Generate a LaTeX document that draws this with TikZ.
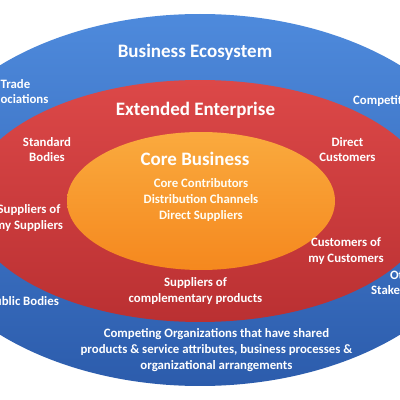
\documentclass[tikz,border=0pt]{standalone}
\usepackage{fontspec}
\setmainfont{Carlito}
\begin{document}
\begin{tikzpicture}[x=1pt,y=1pt,
  title/.style={text=white,font=\bfseries\fontsize{19}{22}\selectfont,inner sep=0pt},
  lab/.style={text=white,font=\bfseries\fontsize{12.8}{15.7}\selectfont,align=center,inner sep=0pt},
  corelab/.style={text=white!96!yellow,font=\bfseries\fontsize{12.8}{15.7}\selectfont,align=center,inner sep=0pt}]
\useasboundingbox (0,0) rectangle (400,400);
\clip (0,0) rectangle (400,400);
\fill[white] (0,0) rectangle (400,400);
% rings
\shade[top color={rgb,255:red,78;green,138;blue,220}, bottom color={rgb,255:red,44;green,92;blue,172}]
  (200,200) ellipse [x radius=290pt, y radius=186pt];
\shade[top color={rgb,255:red,220;green,72;blue,72}, bottom color={rgb,255:red,186;green,48;blue,50}]
  (200,199) ellipse [x radius=232pt, y radius=121pt];
\shade[top color={rgb,255:red,250;green,170;blue,62}, bottom color={rgb,255:red,245;green,136;blue,30}]
  (201,199) ellipse [x radius=134pt, y radius=69pt];
% titles
\node[title] (eco) at (195,348) {Business Ecosystem};
\node[title] (ext) at (195.5,290) {Extended Enterprise};
\node[title] (core) at (195,241) {Core Business};
% core labels
\node[corelab] (corelist) at (201,200) {Core Contributors\\Distribution Channels\\Direct Suppliers};
% extended enterprise labels
\node[lab] (std) at (47,250.5) {Standard\\Bodies};
\node[lab] (dcust) at (347.5,250.5) {Direct\\Customers};
\node[lab] (supsup) at (29,182) {Suppliers of\\my Suppliers};
\node[lab] (custcust) at (346,149) {Customers of\\my Customers};
\node[lab] (supcomp) at (195.5,109) {Suppliers of\\complementary products};
% ecosystem labels
\node[lab] (trade) at (15.5,308.5) {Trade\\Associations};
\node[lab,anchor=west] (comp) at (353,299) {Competitors};
\node[lab] (pub) at (23.5,98.5) {Public Bodies};
\node[lab] (other) at (405.5,117.5) {Other\\Stakeholders};
\node[lab] (competing) at (216.5,50) {Competing Organizations that have shared\\products \& service attributes, business processes \&\\organizational arrangements};
\end{tikzpicture}
\end{document}
